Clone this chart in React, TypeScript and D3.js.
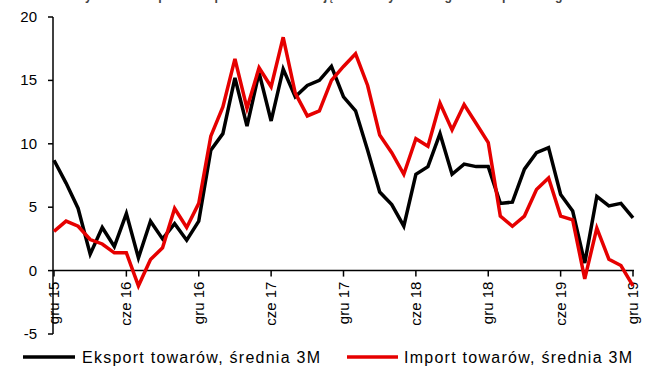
import React from "react";
import * as d3 from "d3";

const months: string[] = [
  "2015-12","2016-01","2016-02","2016-03","2016-04","2016-05","2016-06","2016-07","2016-08","2016-09","2016-10","2016-11",
  "2016-12","2017-01","2017-02","2017-03","2017-04","2017-05","2017-06","2017-07","2017-08","2017-09","2017-10","2017-11",
  "2017-12","2018-01","2018-02","2018-03","2018-04","2018-05","2018-06","2018-07","2018-08","2018-09","2018-10","2018-11",
  "2018-12","2019-01","2019-02","2019-03","2019-04","2019-05","2019-06","2019-07","2019-08","2019-09","2019-10","2019-11",
  "2019-12"
];

const eksport: number[] = [
  8.7, 6.9, 4.9, 1.3, 3.4, 1.9, 4.5, 1.0, 3.9, 2.5, 3.7, 2.4,
  3.9, 9.5, 10.8, 15.2, 11.4, 15.6, 11.8, 15.9, 13.7, 14.6, 15.0, 16.1,
  13.7, 12.6, 9.5, 6.2, 5.2, 3.5, 7.6, 8.2, 10.8, 7.6, 8.4, 8.2,
  8.2, 5.3, 5.4, 8.0, 9.3, 9.7, 6.0, 4.7, 0.6, 5.85, 5.1, 5.3,
  4.15
];

const importT: number[] = [
  3.1, 3.9, 3.5, 2.45, 2.1, 1.4, 1.4, -1.2, 0.87, 1.8, 4.9, 3.4,
  5.3, 10.6, 12.9, 16.7, 12.8, 16.0, 14.5, 18.4, 14.0, 12.2, 12.6, 15.0,
  16.1, 17.1, 14.6, 10.7, 9.3, 7.6, 10.4, 9.8, 13.2, 11.1, 13.1, 11.6,
  10.1, 4.3, 3.5, 4.3, 6.4, 7.3, 4.3, 4.0, -0.65, 3.35, 0.9, 0.4,
  -1.2
];

const xTickIdx: number[] = [0, 6, 12, 18, 24, 30, 36, 42, 48];
const xTickLabels: string[] = ["gru 15", "cze 16", "gru 16", "cze 17", "gru 17", "cze 18", "gru 18", "cze 19", "gru 19"];
const yTicks: number[] = [-5, 0, 5, 10, 15, 20];
const seriesNames: string[] = ["Eksport towarów, średnia 3M", "Import towarów, średnia 3M"];
const title = "Dynamika eksportu i importu towarów w ujęciu rocznym według bilansu płatniczego";

const W = 657;
const H = 372;
const FONT = "'Liberation Sans', Arial, sans-serif";

export default function App() {
  const x = d3.scaleLinear().domain([0, months.length - 1]).range([54, 633]);
  const y = d3.scaleLinear().domain([-5, 20]).range([334, 17]);
  const line = d3
    .line<number>()
    .x((_, i) => x(i))
    .y((d) => y(d));

  const axisX0 = 53;
  const zeroY = y(0);

  return (
    <svg
      width={W}
      height={H}
      style={{ position: "absolute", left: 0, top: 0, background: "#fff" }}
      fontFamily={FONT}
    >
      <rect x={0} y={0} width={W} height={H} fill="#fff" />
      <text x={76} y={-0.5} fontSize={15} fontWeight="bold" fill="#444" textLength={494} lengthAdjust="spacingAndGlyphs">
        {title}
      </text>

      {/* y axis */}
      <line x1={axisX0} x2={axisX0} y1={y(20)} y2={y(-5)} stroke="#000" strokeWidth={1.5} />
      {yTicks.map((t) => (
        <g key={t}>
          <line x1={axisX0 - 5} x2={axisX0} y1={y(t)} y2={y(t)} stroke="#000" strokeWidth={1.5} />
          <text x={37} y={y(t) + 5} fontSize={15} textAnchor="end" fill="#000">
            {t}
          </text>
        </g>
      ))}

      {/* x axis at 0 */}
      <line x1={axisX0} x2={x(months.length - 1) + 1} y1={zeroY} y2={zeroY} stroke="#000" strokeWidth={1.5} />
      {xTickIdx.map((idx, k) => (
        <g key={idx}>
          <line x1={x(idx)} x2={x(idx)} y1={zeroY} y2={zeroY + 6} stroke="#000" strokeWidth={1.5} />
          <text
            transform={`translate(${x(idx) + 5},${zeroY + 11}) rotate(-90)`}
            fontSize={15}
            textAnchor="end"
            fill="#000"
          >
            {xTickLabels[k]}
          </text>
        </g>
      ))}

      {/* series */}
      <path d={line(eksport) || ""} fill="none" stroke="#000" strokeWidth={3.5} strokeLinejoin="miter" />
      <path d={line(importT) || ""} fill="none" stroke="#e60000" strokeWidth={3.5} strokeLinejoin="miter" />

      {/* legend */}
      <line x1={23} x2={75} y1={357} y2={357} stroke="#000" strokeWidth={3.5} />
      <text x={82} y={363} fontSize={16} fill="#000" textLength={238} lengthAdjust="spacing">{seriesNames[0]}</text>
      <line x1={347} x2={398} y1={357} y2={357} stroke="#e60000" strokeWidth={3.5} />
      <text x={404} y={363} fontSize={16} fill="#000" textLength={228} lengthAdjust="spacing">{seriesNames[1]}</text>
    </svg>
  );
}
